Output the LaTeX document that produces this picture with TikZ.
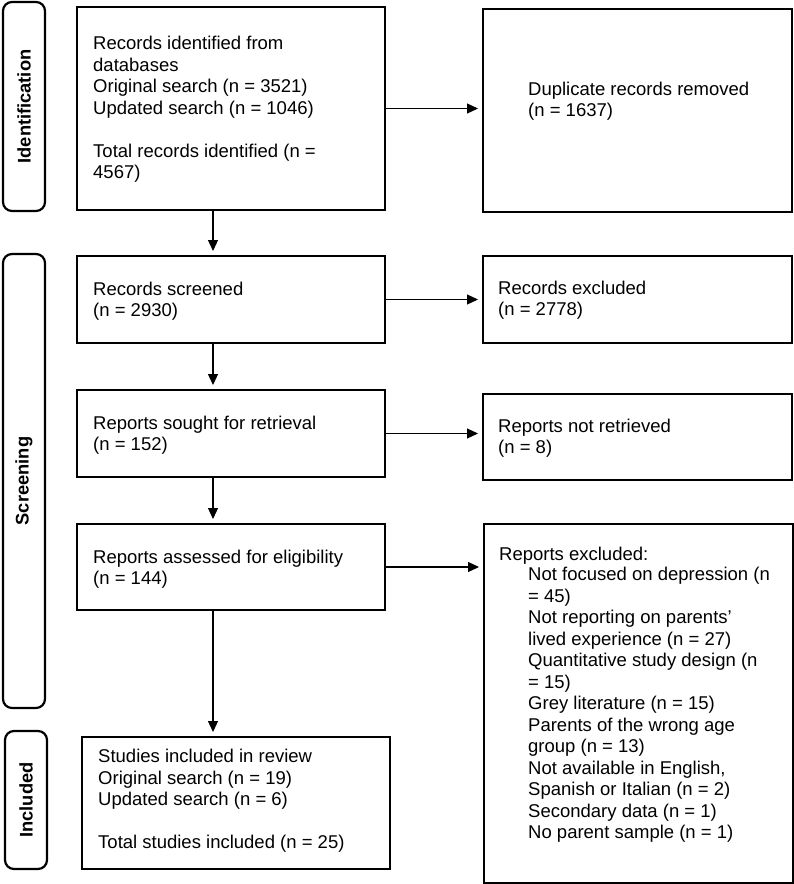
\documentclass[tikz,border=0pt]{standalone}
\usepackage{fontspec}
\setmainfont{Liberation Sans}
\usetikzlibrary{arrows.meta}
\begin{document}
\begin{tikzpicture}[x=1pt,y=-1pt,
  box/.style={draw=black,line width=2pt,rectangle,inner sep=0pt,anchor=north west},
  bar/.style={draw=black,line width=2.2pt,rectangle,rounded corners=9pt,inner sep=0pt,rotate=90,
    font=\fontsize{18.3}{21.5}\selectfont\bfseries},
  txt/.style={inner sep=0pt,anchor=base west,align=left,font=\fontsize{18.5}{21.5}\selectfont},
  arr/.style={-{Triangle[length=11pt,width=10pt]},line width=1.2pt,shorten >=4pt}]
\useasboundingbox (0,0) rectangle (794,884);
% phase bars
\node[bar,minimum width=209pt,minimum height=42pt] (idbar) at (24,106.5) {Identification};
\node[bar,minimum width=454pt,minimum height=42pt] (scrbar) at (24,481) {Screening};
\node[bar,minimum width=138pt,minimum height=42pt] (incbar) at (26,800) {Included};
% boxes
\node[box,minimum width=308pt,minimum height=203pt] (b1) at (76,6) {};
\node[box,minimum width=309pt,minimum height=203pt] (dup) at (482,8) {};
\node[box,minimum width=308pt,minimum height=87pt] (b2) at (76,255) {};
\node[box,minimum width=309pt,minimum height=87pt] (exc1) at (482,255) {};
\node[box,minimum width=308pt,minimum height=87pt] (b3) at (76,389) {};
\node[box,minimum width=309pt,minimum height=86pt] (exc2) at (482,393) {};
\node[box,minimum width=308pt,minimum height=86pt] (b4) at (76,523) {};
\node[box,minimum width=309pt,minimum height=359pt] (exc3) at (483,523) {};
\node[box,minimum width=308pt,minimum height=132pt] (b5) at (81,736) {};
% texts (base anchor = baseline of last line)
\node[txt] (t1) at (93,178.5) {Records identified from\\databases\\Original search (n = 3521)\\Updated search (n = 1046)\\[21.5pt]Total records identified (n =\\4567)};
\node[txt] (tdup) at (528,116.5) {Duplicate records removed\\(n = 1637)};
\node[txt] (t2) at (93,316.5) {Records screened\\(n = 2930)};
\node[txt] (texc1) at (498,315.5) {Records excluded\\(n = 2778)};
\node[txt] (t3) at (93,450.5) {Reports sought for retrieval\\(n = 152)};
\node[txt] (texc2) at (498,453.5) {Reports not retrieved\\(n = 8)};
\node[txt] (t4) at (93,584.5) {Reports assessed for eligibility\\(n = 144)};
\node[txt] (texc3h) at (499,560.5) {Reports excluded:};
\node[txt] (texc3) at (528,838.5) {Not focused on depression (n\\= 45)\\Not reporting on parents’\\lived experience (n = 27)\\Quantitative study design (n\\= 15)\\Grey literature (n = 15)\\Parents of the wrong age\\group (n = 13)\\Not available in English,\\Spanish or Italian (n = 2)\\Secondary data (n = 1)\\No parent sample (n = 1)};
\node[txt] (t5) at (98,848.5) {Studies included in review\\Original search (n = 19)\\Updated search (n = 6)\\[21.5pt]Total studies included (n = 25)};
% connectors
\coordinate (ax) at (213,0);
\draw[arr] (b1.south -| ax) -- (b2.north -| ax);
\draw[arr] (b2.south -| ax) -- (b3.north -| ax);
\draw[arr] (b3.south -| ax) -- (b4.north -| ax);
\draw[arr] (b4.south -| ax) -- (b5.north -| ax);
\draw[arr] (b1.east) -- (dup.west |- b1.east);
\draw[arr] (b2.east) -- (exc1.west |- b2.east);
\draw[arr] (b3.east) -- (exc2.west |- b3.east);
\draw[arr] (b4.east) -- (exc3.west |- b4.east);
\end{tikzpicture}
\end{document}
